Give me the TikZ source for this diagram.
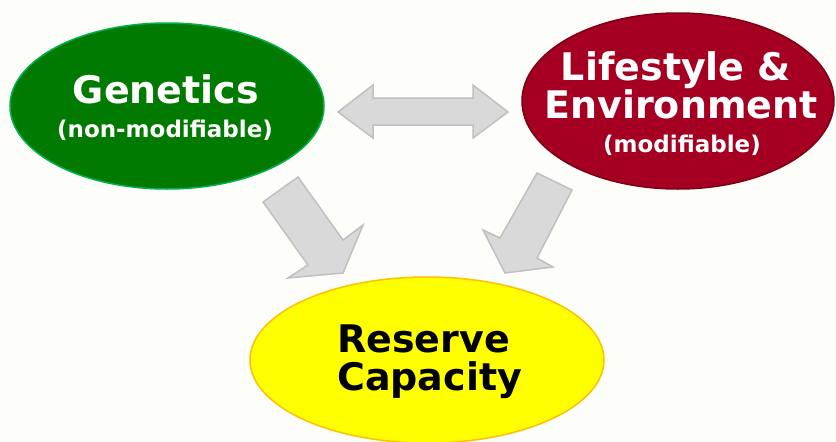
\documentclass[tikz,border=0pt]{standalone}
\usepackage{fontspec}
\setmainfont{DejaVu Sans}
\usepackage{xcolor}
\usepackage{tikz}
\usetikzlibrary{shapes.geometric}
\definecolor{bgcream}{RGB}{253,253,250}
\definecolor{genfill}{RGB}{0,122,0}
\definecolor{genline}{RGB}{0,176,80}
\definecolor{lifefill}{RGB}{165,0,33}
\definecolor{lifeline}{RGB}{125,0,20}
\definecolor{resfill}{RGB}{255,255,0}
\definecolor{resline}{RGB}{255,192,0}
\definecolor{arrfill}{RGB}{217,217,217}
\definecolor{arrline}{RGB}{192,192,192}
\tikzset{
    blob/.style={draw, ellipse, line width=1.5pt, inner sep=0pt},
    bigtext/.style={font=\bfseries\fontsize{38}{40}\selectfont, inner sep=0pt, anchor=base},
    smalltext/.style={font=\bfseries\fontsize{23}{26}\selectfont, inner sep=0pt, anchor=base},
    blockarrow/.style={fill=arrfill, draw=arrline, line width=1.5pt, line join=miter}
}
\begin{document}
\begin{tikzpicture}[x=1pt, y=-1pt]

\fill [bgcream] (0,0) rectangle (836,442);
\useasboundingbox (0,0) rectangle (836,442);

\node [blob, fill=genfill, draw=genline, minimum width=314, minimum height=166]  (genetics)  at (167,106) {};
\node [blob, fill=lifefill, draw=lifeline, minimum width=312, minimum height=176] (lifestyle) at (678,101) {};
\node [blob, fill=resfill, draw=resline, minimum width=354, minimum height=166]   (reserve)   at (427,360) {};

\node [bigtext, white]   (genname)  at (166,103) {Genetics};
\node [smalltext, white] (gennote)  at (165,137) {(non-modifiable)};
\node [bigtext, white]   (lifename) at (676,80)  {Lifestyle \&};
\node [bigtext, white]   (envname)  at (681,118) {Environment};
\node [smalltext, white] (lifenote) at (682,152) {(modifiable)};
\node [bigtext, anchor=base west] (resname) at (337,352) {Reserve};
\node [bigtext, anchor=base west] (capname) at (337,390) {Capacity};

% block arrows
\draw [blockarrow] (338,112) -- (373,85) -- (373,98) -- (473,98) -- (473,85) -- (508,112)
    -- (473,138) -- (473,125) -- (373,125) -- (373,138) -- cycle;
\draw [blockarrow] (263,202) -- (298,177) -- (343,240) -- (363,225) -- (343,273)
    -- (288,278) -- (308,265) -- cycle;
\draw [blockarrow] (572,190) -- (537,173) -- (500,238) -- (483,230) -- (505,273)
    -- (553,267) -- (537,258) -- cycle;

\end{tikzpicture}
\end{document}
